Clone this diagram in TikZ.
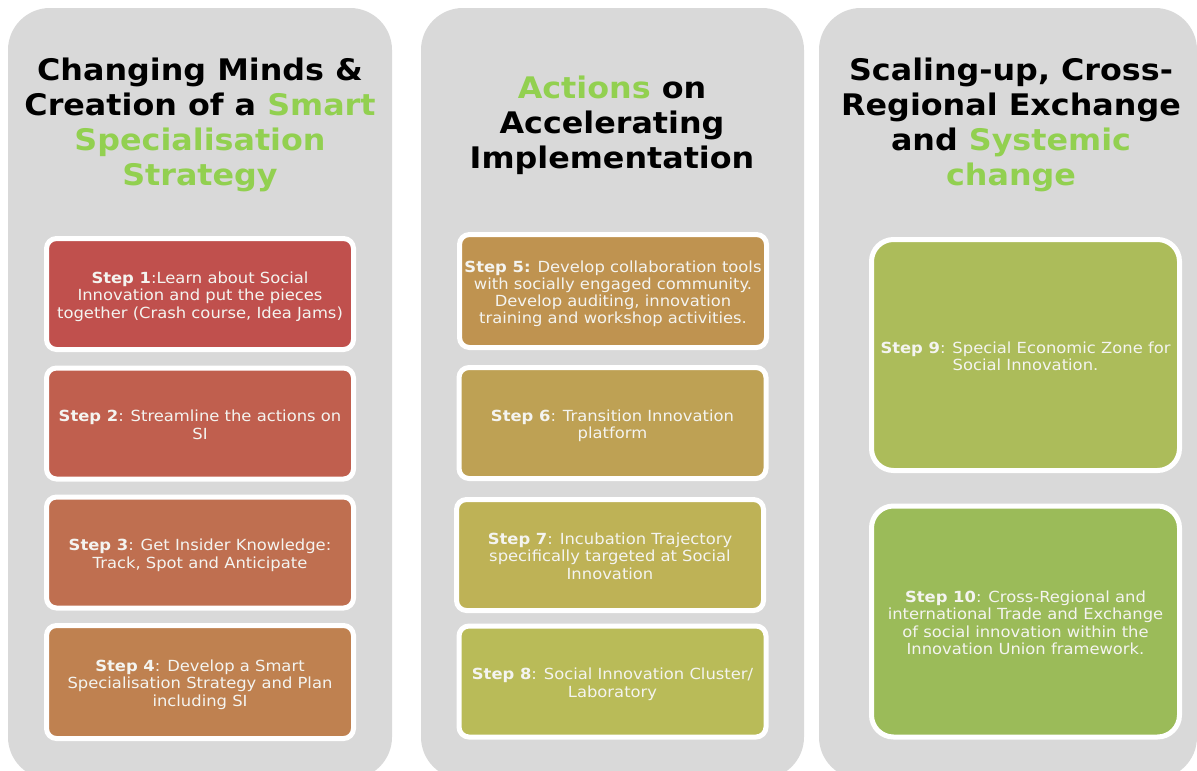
\documentclass[tikz,border=0pt]{standalone}
\usepackage{fontspec}
\setmainfont[FakeStretch=1.07]{DejaVu Sans}
\definecolor{panelgray}{HTML}{D9D9D9}
\definecolor{titlegreen}{HTML}{92D050}
\definecolor{bodytext}{HTML}{F4F4F0}
\definecolor{sa}{HTML}{C0504D}
\definecolor{sb}{HTML}{C05F4E}
\definecolor{sc}{HTML}{BF6F50}
\definecolor{sd}{HTML}{BF8150}
\definecolor{se}{HTML}{BF9350}
\definecolor{sf}{HTML}{BEA154}
\definecolor{sg}{HTML}{BEB256}
\definecolor{sh}{HTML}{B9BB58}
\definecolor{si}{HTML}{ACBC5A}
\definecolor{sj}{HTML}{9BBB59}
\newcommand{\steptext}[1]{\raisebox{-3.5pt}[\height][\depth]{\begin{tabular}{@{}c@{}}#1\end{tabular}}}
\tikzset{
  panel/.style={fill=panelgray, rounded corners=42pt},
  title/.style={align=center, font=\fontsize{29.7}{35}\selectfont\bfseries},
  stepbox/.style={draw=white, line width=5pt, rounded corners=10pt,
    minimum width=307pt, minimum height=111pt, text=bodytext, inner sep=0pt,
    font=\fontsize{15.3}{17.3}\selectfont},
  bigbox/.style={stepbox, rounded corners=22pt, minimum width=308pt, minimum height=231pt}
}
\begin{document}
\begin{tikzpicture}[x=1pt,y=-1pt]
\useasboundingbox (0,0) rectangle (1197,771);
\clip (0,0) rectangle (1197,771);
\fill[white] (0,0) rectangle (1197,771);
\fill[panel] (8,8) rectangle (392,779);
\fill[panel] (421,8) rectangle (804,779);
\fill[panel] (819,8) rectangle (1197,779);

\node[title] (t1) at (200,124.5) {Changing Minds \&\\Creation of a \textcolor{titlegreen}{Smart}\\\textcolor{titlegreen}{Specialisation}\\\textcolor{titlegreen}{Strategy}};
\node[title] (t2) at (612,125) {\textcolor{titlegreen}{Actions} on\\Accelerating\\Implementation};
\node[title] (t3) at (1011,124.5) {Scaling-up, Cross-\\Regional Exchange\\and \textcolor{titlegreen}{Systemic}\\\textcolor{titlegreen}{change}};

\node[stepbox, fill=sa] (s1) at (200,294) {\steptext{\textbf{Step 1}:Learn about Social\\Innovation and put the pieces\\together (Crash course, Idea Jams)}};
\node[stepbox, fill=sb] (s2) at (200,423.5) {\steptext{\textbf{Step 2}: Streamline the actions on\\SI}};
\node[stepbox, fill=sc] (s3) at (200,552.5) {\steptext{\textbf{Step 3}: Get Insider Knowledge:\\Track, Spot and Anticipate}};
\node[stepbox, fill=sd, minimum height=113pt] (s4) at (200,682) {\steptext{\textbf{Step 4}: Develop a Smart\\Specialisation Strategy and Plan\\including SI}};

\node[stepbox, fill=se, minimum height=113pt] (s5) at (613,291) {\steptext{\textbf{Step 5:} Develop collaboration tools\\with socially engaged community.\\Develop auditing, innovation\\training and workshop activities.}};
\node[stepbox, fill=sf] (s6) at (612.5,423) {\steptext{\textbf{Step 6}: Transition Innovation\\platform}};
\node[stepbox, fill=sg] (s7) at (610,555) {\steptext{\textbf{Step 7}: Incubation Trajectory\\specifically targeted at Social\\Innovation}};
\node[stepbox, fill=sh] (s8) at (612.5,681.5) {\steptext{\textbf{Step 8}: Social Innovation Cluster/\\Laboratory}};

\node[bigbox, fill=si] (s9) at (1025.5,355) {\steptext{\textbf{Step 9}: Special Economic Zone for\\Social Innovation.}};
\node[bigbox, fill=sj] (s10) at (1025.5,621.5) {\steptext{\textbf{Step 10}: Cross-Regional and\\international Trade and Exchange\\of social innovation within the\\Innovation Union framework.}};
\end{tikzpicture}
\end{document}
